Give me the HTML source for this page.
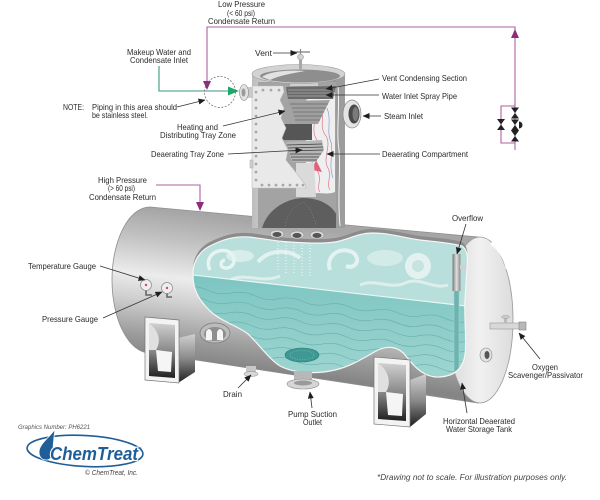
<!DOCTYPE html>
<html><head><meta charset="utf-8"><style>
html,body{margin:0;padding:0;background:#fff;}
svg{display:block;}
text{font-family:"Liberation Sans",Arial,sans-serif;fill:#2a2a2a;font-size:8.2px;}
</style></head><body>
<svg width="600" height="500" viewBox="0 0 600 500" xmlns="http://www.w3.org/2000/svg">
<defs>
 <linearGradient id="tankG" gradientUnits="userSpaceOnUse" x1="0" y1="190" x2="0" y2="338" gradientTransform="skewY(7)">
  <stop offset="0" stop-color="#a6a6a6"/>
  <stop offset="0.2" stop-color="#c2c2c2"/>
  <stop offset="0.45" stop-color="#ececec"/>
  <stop offset="0.62" stop-color="#cfcfcf"/>
  <stop offset="0.85" stop-color="#9e9e9e"/>
  <stop offset="1" stop-color="#858585"/>
 </linearGradient>
 <linearGradient id="capG" x1="0" y1="0" x2="1" y2="0">
  <stop offset="0" stop-color="#d8d8d8"/>
  <stop offset="0.5" stop-color="#f1f1f1"/>
  <stop offset="1" stop-color="#dcdcdc"/>
 </linearGradient>
 <linearGradient id="colG" gradientUnits="userSpaceOnUse" x1="252" y1="0" x2="345" y2="0">
  <stop offset="0" stop-color="#bdbdbd"/>
  <stop offset="0.25" stop-color="#dadada"/>
  <stop offset="0.6" stop-color="#b6b6b6"/>
  <stop offset="1" stop-color="#8a8a8a"/>
 </linearGradient>
 <linearGradient id="legG" x1="0" y1="0" x2="0" y2="1">
  <stop offset="0" stop-color="#d0d0d0"/>
  <stop offset="0.5" stop-color="#8a8a8a"/>
  <stop offset="1" stop-color="#1e1e1e"/>
 </linearGradient>
 <linearGradient id="pipeG" x1="0" y1="0" x2="1" y2="0">
  <stop offset="0" stop-color="#777"/>
  <stop offset="0.5" stop-color="#e0e0e0"/>
  <stop offset="1" stop-color="#8a8a8a"/>
 </linearGradient>
 <linearGradient id="waterLow" x1="0" y1="0" x2="0" y2="1">
  <stop offset="0" stop-color="#7cc5c1"/>
  <stop offset="1" stop-color="#a6d8d4"/>
 </linearGradient>
 <path id="cut" d="M193,276 C192,262 200,250 212,245 C222,240 235,236 248,237 C262,238 272,241 290,242 C305,243 320,244 335,242 C348,240 358,233 372,233 C390,233 405,238 420,240 C438,242 452,243 462,246 C468,250 468,258 467,268 L465,300 C464,320 467,340 465,355 C463,368 455,376 440,377 C425,378 415,368 406,356 C399,347 389,345 378,350 C365,357 352,366 335,370 C318,374 295,374 280,366 C268,358 258,343 248,334 C238,326 222,322 210,311 C200,301 193,291 193,276 Z"/>
 <clipPath id="cutClip"><use href="#cut"/></clipPath>
 <marker id="ah" markerWidth="7" markerHeight="6" refX="6.5" refY="3" orient="auto" markerUnits="userSpaceOnUse"><path d="M0,0 L7,3 L0,6 Z" fill="#1e1e1e"/></marker>
</defs>

<rect width="600" height="500" fill="#fff"/>

<!-- ===== Horizontal tank ===== -->
<path d="M150,207 L478,237 L478,403 L150,353 A38,73 0 0 1 150,207 Z" fill="url(#tankG)" stroke="#8e8e8e" stroke-width="0.8"/>
<ellipse cx="480" cy="320" rx="33" ry="83" fill="url(#capG)" stroke="#9a9a9a" stroke-width="0.8"/>
<path d="M492,244 C500,250 505,258 507,268" stroke="#fff" stroke-width="3" fill="none" stroke-linecap="round"/>

<!-- inner shell band + water cutaway -->
<use href="#cut" transform="translate(0,-4)" fill="#8c8c8c"/>
<g clip-path="url(#cutClip)">
 <rect x="185" y="225" width="290" height="160" fill="#b8dfdb"/>
 <ellipse cx="240" cy="256" rx="14" ry="6" fill="#d8eeeb"/>
 <path d="M210,270 C204,258 215,248 227,251 C237,254 236,267 227,268 C220,269 219,261 225,260" stroke="#e6f4f2" stroke-width="3.5" fill="none"/>
 <path d="M258,262 C270,248 290,250 300,258" stroke="#e2f2f0" stroke-width="4" fill="none"/>
 <path d="M330,270 C325,256 340,246 352,252 C362,258 356,270 346,266" stroke="#e4f3f1" stroke-width="4" fill="none"/>
 <ellipse cx="385" cy="258" rx="18" ry="8" fill="#d3ebe8"/>
 <circle cx="418" cy="266" r="13" fill="#e3f2f0"/>
 <circle cx="418" cy="266" r="6" fill="#c6e4e0"/>
 <path d="M360,285 C375,278 390,290 405,283 C420,276 432,290 448,285" stroke="#dcefec" stroke-width="3" fill="none"/>
 <path d="M230,280 C245,272 262,284 280,276" stroke="#dcefec" stroke-width="3" fill="none"/>
 <g stroke="#ffffff" stroke-width="1" stroke-dasharray="1 2" opacity="0.9">
  <line x1="278" y1="242" x2="278" y2="272"/><line x1="286" y1="242" x2="286" y2="274"/>
  <line x1="294" y1="242" x2="294" y2="275"/><line x1="302" y1="242" x2="302" y2="276"/>
  <line x1="310" y1="242" x2="310" y2="276"/>
 </g>
 <path d="M180,273.5 L475,307 L475,400 L180,400 Z" fill="url(#waterLow)"/>
 <line x1="180" y1="273.5" x2="475" y2="307" stroke="#e8f6f4" stroke-width="1.2"/>
 <g transform="rotate(6.8 190 276)" stroke="#5aa8a3" stroke-width="0.6" fill="none" opacity="0.8">
  <path d="M185,288 q12,-4 24,0 t24,0 t24,0 t24,0 t24,0 t24,0 t24,0 t24,0 t24,0 t24,0 t24,0 t24,0"/>
  <path d="M185,298 q12,-4 24,0 t24,0 t24,0 t24,0 t24,0 t24,0 t24,0 t24,0 t24,0 t24,0 t24,0 t24,0"/>
  <path d="M185,308 q12,-4 24,0 t24,0 t24,0 t24,0 t24,0 t24,0 t24,0 t24,0 t24,0 t24,0 t24,0 t24,0"/>
  <path d="M185,318 q12,-4 24,0 t24,0 t24,0 t24,0 t24,0 t24,0 t24,0 t24,0 t24,0 t24,0 t24,0 t24,0"/>
  <path d="M185,328 q12,-4 24,0 t24,0 t24,0 t24,0 t24,0 t24,0 t24,0 t24,0 t24,0 t24,0 t24,0 t24,0"/>
  <path d="M185,338 q12,-4 24,0 t24,0 t24,0 t24,0 t24,0 t24,0 t24,0 t24,0 t24,0 t24,0 t24,0 t24,0"/>
  <path d="M185,348 q12,-4 24,0 t24,0 t24,0 t24,0 t24,0 t24,0 t24,0 t24,0 t24,0 t24,0 t24,0 t24,0"/>
 </g>
 <ellipse cx="302" cy="355" rx="17" ry="7" fill="#3f9893" stroke="#2f7f7a" stroke-width="0.6"/>
 <ellipse cx="302" cy="355" rx="12" ry="4.5" fill="none" stroke="#7cc6c1" stroke-width="0.6" stroke-dasharray="1 1.5"/>
 <rect x="454" y="290" width="5" height="84" fill="#6db4b0" stroke="#a3d3cf" stroke-width="0.6"/>
 <rect x="452.5" y="254" width="8" height="37" fill="url(#pipeG)"/>
 <rect x="460" y="265" width="9" height="4" fill="#d0d0d0"/>
</g>
<use href="#cut" fill="none" stroke="#f6f6f6" stroke-width="1.2"/>

<!-- ===== Vertical column ===== -->
<rect x="252" y="74" width="93" height="154" fill="url(#colG)"/>
<path d="M258,82 L338,82 L338,228 L258,228 Z" fill="#a3a3a3"/>
<path d="M306,100 C312,96 322,98 335,92 L335,192 C325,196 315,190 306,196 Z" fill="#efefef"/>
<g fill="none" stroke-width="0.6">
 <path d="M312,110 C318,120 310,130 317,140 C322,150 312,160 318,172 C322,180 316,188 320,192" stroke="#d9637a"/>
 <path d="M320,104 C326,116 318,126 326,136 C332,146 322,158 328,168 C332,176 326,184 330,190" stroke="#d9637a"/>
 <path d="M327,108 C332,120 326,132 331,142 C334,152 328,164 333,178" stroke="#7a8fc9"/>
 <path d="M310,150 C316,160 308,170 313,182" stroke="#7a8fc9"/>
</g>
<path d="M316,160 L322,172 L312,170 Z" fill="#e0627a"/>
<path d="M290,81 L318,81 L318,86 L290,86 Z" fill="#cfcfcf"/>
<path d="M286,87 L336,86 L333,99 L288,99 Z" fill="#6b6b6b"/>
<g stroke="#a8a8a8" stroke-width="0.8"><line x1="288" y1="90" x2="334" y2="90"/><line x1="288" y1="93" x2="334" y2="93"/><line x1="288" y1="96" x2="333" y2="96"/></g>
<path d="M288,101 L330,100 L318,124 L296,124 Z" fill="#a0a0a0"/>
<g stroke="#6b6b6b" stroke-width="0.7"><line x1="290" y1="104" x2="328" y2="104"/><line x1="292" y1="108" x2="326" y2="108"/><line x1="293" y1="112" x2="324" y2="112"/><line x1="294" y1="116" x2="322" y2="116"/><line x1="295" y1="120" x2="320" y2="120"/></g>
<path d="M278,124 L312,124 L312,140 L278,140 Z" fill="#565656"/>
<path d="M286,142 L322,140 L324,150 L316,162 L292,162 Z" fill="#b6b6b6"/>
<g stroke="#3e3e3e" stroke-width="0.8"><line x1="287" y1="145" x2="322" y2="144"/><line x1="288" y1="148" x2="323" y2="147"/><line x1="289" y1="151" x2="323" y2="150"/><line x1="290" y1="154" x2="321" y2="154"/><line x1="291" y1="157" x2="319" y2="157"/><line x1="292" y1="160" x2="317" y2="160"/></g>
<path d="M296,163 L314,163 L316,197 L296,197 Z" fill="#dadada"/>
<path d="M262,228 C268,208 288,198 304,198 C320,198 334,206 338,218 L338,228 Z" fill="#5e5e5e"/>
<g stroke="#9a9a9a" stroke-width="0.5" stroke-dasharray="1 2" fill="none">
 <path d="M285,226 C288,212 296,204 304,202"/><path d="M304,202 C310,208 314,216 316,226"/>
</g>
<rect x="336" y="74" width="9" height="154" fill="#9c9c9c"/>
<path d="M338,86 C340,110 336,130 339,150 C341,170 337,195 340,226" stroke="#f4f4f4" stroke-width="1" fill="none"/>
<path d="M252,86 L283,86 L284,92 L280,100 L284,108 L281,118 L286,128 L282,138 L288,150 L286,160 L294,170 L300,178 L305,184 L306,188 L252,188 Z" fill="#e9e9e9" stroke="#bdbdbd" stroke-width="0.6"/>
<g fill="none" stroke="#7a7a7a" stroke-width="0.6">
 <circle cx="256" cy="92" r="1"/><circle cx="256" cy="100" r="1"/><circle cx="256" cy="108" r="1"/><circle cx="256" cy="116" r="1"/><circle cx="256" cy="124" r="1"/><circle cx="256" cy="132" r="1"/><circle cx="256" cy="140" r="1"/><circle cx="256" cy="148" r="1"/><circle cx="256" cy="156" r="1"/><circle cx="256" cy="164" r="1"/><circle cx="256" cy="172" r="1"/><circle cx="256" cy="180" r="1"/>
 <circle cx="263" cy="90" r="1"/><circle cx="271" cy="90" r="1"/><circle cx="279" cy="90" r="1"/>
 <circle cx="262" cy="185" r="1"/><circle cx="269" cy="185" r="1"/><circle cx="276" cy="185" r="1"/><circle cx="283" cy="185" r="1"/><circle cx="290" cy="185" r="1"/><circle cx="297" cy="185" r="1"/><circle cx="303" cy="185" r="1"/>
</g>
<rect x="250" y="160" width="3" height="8" fill="#cfcfcf" stroke="#999" stroke-width="0.4"/>
<ellipse cx="298.5" cy="74" rx="46.5" ry="9.5" fill="#d3d3d3" stroke="#9c9c9c" stroke-width="0.6"/>
<ellipse cx="300" cy="76" rx="40" ry="6.5" fill="#8e8e8e"/>
<path d="M262,77 C270,71 290,70 305,71 C295,73 280,75 270,80 Z" fill="#e2e2e2"/>
<g>
 <ellipse cx="277" cy="234" rx="7" ry="4" fill="#d8d8d8" stroke="#888" stroke-width="0.5"/><ellipse cx="277" cy="234.5" rx="4.5" ry="2.5" fill="#555"/>
 <ellipse cx="297" cy="235" rx="7" ry="4" fill="#d8d8d8" stroke="#888" stroke-width="0.5"/><ellipse cx="297" cy="235.5" rx="4.5" ry="2.5" fill="#555"/>
 <ellipse cx="317" cy="235" rx="7" ry="4" fill="#d8d8d8" stroke="#888" stroke-width="0.5"/><ellipse cx="317" cy="235.5" rx="4.5" ry="2.5" fill="#555"/>
</g>
<rect x="299" y="56" width="3" height="13" fill="#a8a8a8"/>
<circle cx="300.5" cy="57" r="3" fill="#d0d0d0" stroke="#888" stroke-width="0.5"/>
<line x1="294" y1="52" x2="310" y2="52" stroke="#888" stroke-width="1.4"/>
<line x1="300.5" y1="49" x2="300.5" y2="54" stroke="#888" stroke-width="1.2"/>
<ellipse cx="352" cy="114" rx="9" ry="14" fill="#e4e4e4" stroke="#8a8a8a" stroke-width="0.7"/>
<ellipse cx="354" cy="114" rx="5.5" ry="9.5" fill="#4a4a4a"/>
<ellipse cx="355.5" cy="114" rx="3" ry="7" fill="#7a7a7a"/>
<rect x="244" y="87" width="9" height="11" fill="#c9c9c9"/>
<ellipse cx="244" cy="92.5" rx="4.5" ry="8" fill="#e2e2e2" stroke="#888" stroke-width="0.6"/>
<ellipse cx="243.5" cy="92.5" rx="2" ry="4" fill="#9a9a9a"/>

<!-- tank details -->
<path d="M146,290 L146,295 L152,295" stroke="#666" stroke-width="1.6" fill="none"/>
<circle cx="146" cy="285" r="5.5" fill="#eeeeee" stroke="#8a8a8a" stroke-width="0.7"/><circle cx="146" cy="285" r="1.2" fill="#d04a6a"/>
<path d="M167,293 L167,297 L172,297" stroke="#666" stroke-width="1.6" fill="none"/>
<circle cx="167" cy="288" r="5.5" fill="#eeeeee" stroke="#8a8a8a" stroke-width="0.7"/><circle cx="167" cy="288" r="1.2" fill="#d04a6a"/>
<ellipse cx="215" cy="333" rx="15" ry="10" fill="#bcbcbc" stroke="#7a7a7a" stroke-width="0.7"/>
<ellipse cx="215" cy="334" rx="11" ry="7" fill="#8e8e8e"/>
<path d="M206,340 L206,332 Q209,326 212,332 L212,340 Z" fill="#f5f5f5"/>
<path d="M217,340 L217,332 Q220,326 223,332 L223,340 Z" fill="#f5f5f5"/>
<rect x="246" y="366" width="10" height="8" fill="#c8c8c8"/>
<ellipse cx="251" cy="374" rx="7" ry="2.5" fill="#d8d8d8" stroke="#888" stroke-width="0.5"/>
<rect x="294" y="371" width="18" height="12" fill="#b8b8b8"/>
<ellipse cx="303" cy="384" rx="16" ry="5" fill="#d6d6d6" stroke="#888" stroke-width="0.6"/>
<ellipse cx="303" cy="383" rx="9" ry="2.5" fill="#9a9a9a"/>
<rect x="490" y="323" width="30" height="6" fill="#d8d8d8" stroke="#8a8a8a" stroke-width="0.5"/>
<rect x="519" y="322" width="7" height="8" fill="#b8b8b8" stroke="#777" stroke-width="0.5"/>
<rect x="504" y="317" width="3" height="6" fill="#bbb"/>
<ellipse cx="505.5" cy="317" rx="4" ry="1.5" fill="#ccc" stroke="#888" stroke-width="0.4"/>
<ellipse cx="486" cy="355" rx="6" ry="7" fill="#e2e2e2" stroke="#8a8a8a" stroke-width="0.6"/>
<ellipse cx="487" cy="355" rx="2.5" ry="4" fill="#555"/>

<!-- legs -->
<g>
 <path d="M178,338 L195,334 L195,372 L178,383 Z" fill="url(#legG)"/>
 <path d="M145,317 L179,320 L179,383 L145,380 Z" fill="#f3f3f3" stroke="#777" stroke-width="0.7"/>
 <path d="M149,323 L175,325 L175,378 L149,376 Z" fill="url(#legG)"/>
 <path d="M156,350 L172,352 L171,372 L158,371 Z" fill="#f5f5f5"/>
 <path d="M149,323 C158,330 162,340 156,350 L149,350 Z" fill="#e0e0e0"/>
</g>
<g>
 <path d="M410,380 L426,374 L426,414 L410,427 Z" fill="url(#legG)"/>
 <path d="M374,357 L410,360 L410,427 L374,424 Z" fill="#f3f3f3" stroke="#777" stroke-width="0.7"/>
 <path d="M378,363 L406,365 L406,421 L378,419 Z" fill="url(#legG)"/>
 <path d="M386,392 L403,394 L402,416 L388,415 Z" fill="#f5f5f5"/>
 <path d="M378,363 C388,370 392,382 386,392 L378,392 Z" fill="#e0e0e0"/>
</g>

<!-- ===== Piping lines ===== -->
<g stroke="#b0609f" stroke-width="1.1" fill="none">
 <polyline points="207,88 207,27 515,27 515,150"/>
 <polyline points="515,106 501,106 501,143 515,143"/>
 <polyline points="156,185 200,185 200,206"/>
</g>
<path d="M203,81 L211,81 L207,90 Z" fill="#8e2b7c"/>
<path d="M511,38 L519,38 L515,29 Z" fill="#8e2b7c"/>
<path d="M196,202 L204,202 L200,211 Z" fill="#8e2b7c"/>
<g fill="#222">
 <path d="M497,119 L505,119 L501,124.5 Z M497,130 L505,130 L501,124.5 Z"/>
 <path d="M511,107.5 L519,107.5 L515,113 Z M511,118.5 L519,118.5 L515,113 Z"/>
 <path d="M511,119.5 L519,119.5 L515,125 Z M511,130.5 L519,130.5 L515,125 Z"/>
 <path d="M511,130.5 L519,130.5 L515,136 Z M511,141.5 L519,141.5 L515,136 Z"/>
 <path d="M519,121.5 A3,3 0 0 1 519,128.5 Z"/>
</g>
<polyline points="159,66 159,91 230,91" stroke="#3a9a82" stroke-width="1.1" fill="none"/>
<path d="M228,86.5 L239,91 L228,95.5 Z" fill="#1fa86a"/>
<circle cx="220" cy="92" r="15.5" fill="none" stroke="#666" stroke-width="0.7" stroke-dasharray="2 1.5"/>

<!-- ===== Leader lines ===== -->
<g stroke="#333" stroke-width="0.8" fill="none" marker-end="url(#ah)">
 <line x1="273" y1="53" x2="297" y2="53"/>
 <line x1="177" y1="107" x2="205" y2="100"/>
 <line x1="223" y1="126" x2="285" y2="111"/>
 <line x1="228" y1="154" x2="302" y2="150"/>
 <line x1="379" y1="79" x2="326" y2="89"/>
 <line x1="379" y1="95" x2="326" y2="95"/>
 <line x1="381" y1="116" x2="363" y2="116"/>
 <line x1="380" y1="154" x2="327" y2="154"/>
 <line x1="466" y1="224" x2="457" y2="254"/>
 <line x1="100" y1="266" x2="145" y2="280"/>
 <line x1="103" y1="318" x2="162" y2="292"/>
 <line x1="540" y1="359" x2="519" y2="333"/>
 <line x1="238" y1="388" x2="251" y2="375"/>
 <line x1="312" y1="408" x2="310" y2="392"/>
 <line x1="467" y1="413" x2="462" y2="383"/>
</g>

<!-- ===== Labels ===== -->
<g>
 <text x="218" y="7" textLength="47" lengthAdjust="spacingAndGlyphs">Low Pressure</text>
 <text x="227" y="16" textLength="28" lengthAdjust="spacingAndGlyphs">(&lt; 60 psi)</text>
 <text x="208" y="24" textLength="67" lengthAdjust="spacingAndGlyphs">Condensate Return</text>
 <text x="127" y="55" textLength="64" lengthAdjust="spacingAndGlyphs">Makeup Water and</text>
 <text x="130" y="63" textLength="58" lengthAdjust="spacingAndGlyphs">Condensate Inlet</text>
 <text x="63" y="110" textLength="21" lengthAdjust="spacingAndGlyphs">NOTE:</text>
 <text x="92" y="110" textLength="85" lengthAdjust="spacingAndGlyphs">Piping in this area should</text>
 <text x="92" y="118" textLength="56" lengthAdjust="spacingAndGlyphs">be stainless steel.</text>
 <text x="177" y="130" textLength="41" lengthAdjust="spacingAndGlyphs">Heating and</text>
 <text x="160" y="138" textLength="76" lengthAdjust="spacingAndGlyphs">Distributing Tray Zone</text>
 <text x="151" y="157" textLength="73" lengthAdjust="spacingAndGlyphs">Deaerating Tray Zone</text>
 <text x="98" y="183" textLength="49" lengthAdjust="spacingAndGlyphs">High Pressure</text>
 <text x="108" y="191" textLength="27" lengthAdjust="spacingAndGlyphs">(&gt; 60 psi)</text>
 <text x="89" y="200" textLength="67" lengthAdjust="spacingAndGlyphs">Condensate Return</text>
 <text x="255" y="56" textLength="17" lengthAdjust="spacingAndGlyphs">Vent</text>
 <text x="382" y="81" textLength="85" lengthAdjust="spacingAndGlyphs">Vent Condensing Section</text>
 <text x="382" y="99" textLength="75" lengthAdjust="spacingAndGlyphs">Water Inlet Spray Pipe</text>
 <text x="384" y="119" textLength="39" lengthAdjust="spacingAndGlyphs">Steam Inlet</text>
 <text x="382" y="157" textLength="86" lengthAdjust="spacingAndGlyphs">Deaerating Compartment</text>
 <text x="452" y="221" textLength="31" lengthAdjust="spacingAndGlyphs">Overflow</text>
 <text x="28" y="269" textLength="68" lengthAdjust="spacingAndGlyphs">Temperature Gauge</text>
 <text x="42" y="322" textLength="56" lengthAdjust="spacingAndGlyphs">Pressure Gauge</text>
 <text x="532" y="370" textLength="26" lengthAdjust="spacingAndGlyphs">Oxygen</text>
 <text x="508" y="378" textLength="75" lengthAdjust="spacingAndGlyphs">Scavenger/Passivator</text>
 <text x="223" y="397" textLength="19" lengthAdjust="spacingAndGlyphs">Drain</text>
 <text x="288" y="417" textLength="49" lengthAdjust="spacingAndGlyphs">Pump Suction</text>
 <text x="303" y="425" textLength="19" lengthAdjust="spacingAndGlyphs">Outlet</text>
 <text x="443" y="424" textLength="72" lengthAdjust="spacingAndGlyphs">Horizontal Deaerated</text>
 <text x="446" y="432" textLength="66" lengthAdjust="spacingAndGlyphs">Water Storage Tank</text>
</g>

<!-- ===== Footer / logo ===== -->
<text x="18" y="429" textLength="72" lengthAdjust="spacingAndGlyphs" style="font-size:6px;font-style:italic;fill:#555;">Graphics Number: PH6221</text>
<ellipse cx="85" cy="451" rx="58" ry="15.5" fill="none" stroke="#1f5e97" stroke-width="1.6" transform="rotate(3 85 451)"/>
<path d="M55,429 C50,437 39,444 39,452 C39,457 42,460 46,460 C50,460 53,457 53,452 C53,444 54,437 55,429 Z" fill="#1f5e97" stroke="#fff" stroke-width="0.8"/>
<text x="50" y="460" textLength="88" lengthAdjust="spacingAndGlyphs" stroke="#fff" stroke-width="2.2" paint-order="stroke" style="font-size:18px;font-weight:bold;font-style:italic;fill:#1f5e97;">ChemTreat</text>
<text x="139" y="450" style="font-size:4px;fill:#1f5e97;">®</text>
<text x="85" y="475" textLength="53" lengthAdjust="spacingAndGlyphs" style="font-size:7px;font-style:italic;fill:#444;">© ChemTreat, Inc.</text>
<text x="377" y="480" textLength="190" lengthAdjust="spacingAndGlyphs" style="font-size:7.8px;font-style:italic;fill:#444;">*Drawing not to scale. For illustration purposes only.</text>
</svg>
</body></html>
